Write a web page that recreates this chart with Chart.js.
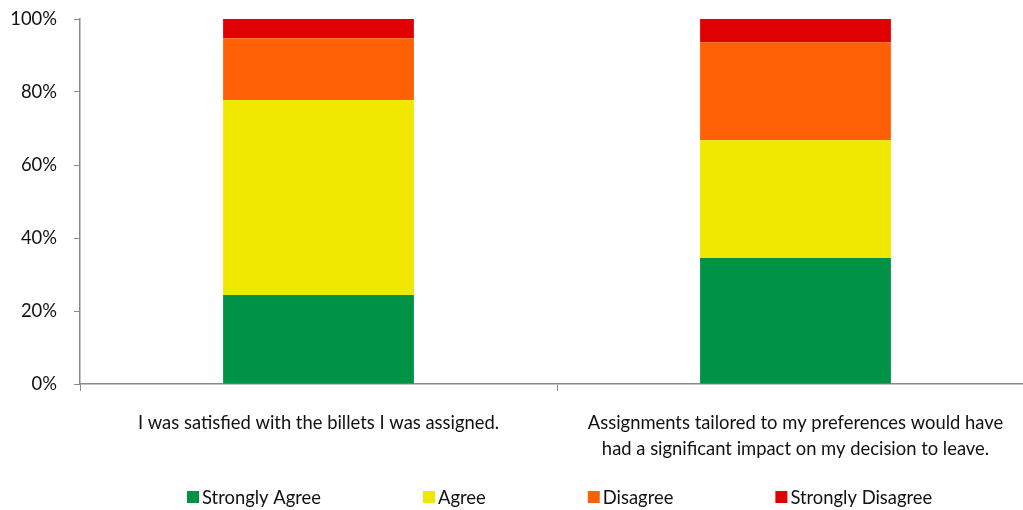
<!DOCTYPE html>
<html>
<head>
<meta charset="utf-8">
<script src="https://cdn.jsdelivr.net/npm/chart.js@4"></script>
<style>
  html, body { margin: 0; padding: 0; background: #fff; overflow: hidden; }
  #wrap { width: 1034px; height: 510px; }
</style>
</head>
<body>
<div id="wrap"><canvas id="chart"></canvas></div>
<script>
const categories = [
  "I was satisfied with the billets I was assigned.",
  ["Assignments tailored to my preferences would have", "had a significant impact on my decision to leave."]
];
const seriesNames = ["Strongly Agree", "Agree", "Disagree", "Strongly Disagree"];
const stronglyAgree = [24.4, 34.5];
const agree = [53.4, 32.3];
const disagree = [16.9, 26.8];
const stronglyDisagree = [5.3, 6.4];
const yTicks = [0, 20, 40, 60, 80, 100];

const colors = ["#009245", "#F0E800", "#FF5F05", "#E00000"];
const axisColor = "#8a8a8a";
const fontFamily = "Lato, 'Open Sans', sans-serif";
const fontSize = 18.4;

// legend drawn by hand so the wide item spacing does not blow up the legend height
const bottomLegend = {
  id: "bottomLegend",
  afterDraw(chart) {
    const ctx = chart.ctx;
    ctx.save();
    ctx.font = fontSize + "px " + fontFamily;
    ctx.textBaseline = "middle";
    let x = 187;
    const y = 497;
    chart.data.datasets.forEach((ds) => {
      ctx.fillStyle = ds.backgroundColor;
      ctx.fillRect(x, y - 6, 12, 12);
      ctx.fillStyle = "#111";
      ctx.fillText(ds.label, x + 15, y + 1);
      x += 15 + ctx.measureText(ds.label).width + 102;
    });
    ctx.restore();
  }
};

new Chart(document.getElementById("chart"), {
  type: "bar",
  data: {
    labels: categories,
    datasets: [
      { label: seriesNames[0], data: stronglyAgree, backgroundColor: colors[0] },
      { label: seriesNames[1], data: agree, backgroundColor: colors[1] },
      { label: seriesNames[2], data: disagree, backgroundColor: colors[2] },
      { label: seriesNames[3], data: stronglyDisagree, backgroundColor: colors[3] }
    ]
  },
  options: {
    responsive: true,
    maintainAspectRatio: false,
    animation: false,
    layout: { padding: { top: 19, left: 0, right: 0, bottom: 0 } },
    datasets: { bar: { categoryPercentage: 1, barPercentage: 0.4 } },
    plugins: {
      legend: { display: false },
      tooltip: { enabled: false }
    },
    scales: {
      x: {
        stacked: true,
        grid: { drawOnChartArea: false, color: axisColor, tickLength: 7, offset: true },
        border: { color: axisColor, width: 1.5 },
        ticks: {
          color: "#111",
          padding: 19,
          maxRotation: 0,
          autoSkip: false,
          font: { family: fontFamily, size: fontSize, lineHeight: 1.4 }
        },
        afterFit(scale) { scale.height = 126; }
      },
      y: {
        stacked: true,
        min: 0,
        max: 100,
        afterBuildTicks(scale) { scale.ticks = yTicks.map(v => ({ value: v })); },
        grid: { drawOnChartArea: false, color: axisColor, tickLength: 6 },
        border: { color: axisColor, width: 1.5 },
        ticks: {
          color: "#111",
          padding: 17,
          callback: v => v + "%",
          font: { family: fontFamily, size: fontSize }
        },
        afterFit(scale) {
          scale.width = 80;
          scale.paddingTop = 0;
          scale.paddingBottom = 0;
        }
      }
    }
  },
  plugins: [bottomLegend]
});
</script>
</body>
</html>
